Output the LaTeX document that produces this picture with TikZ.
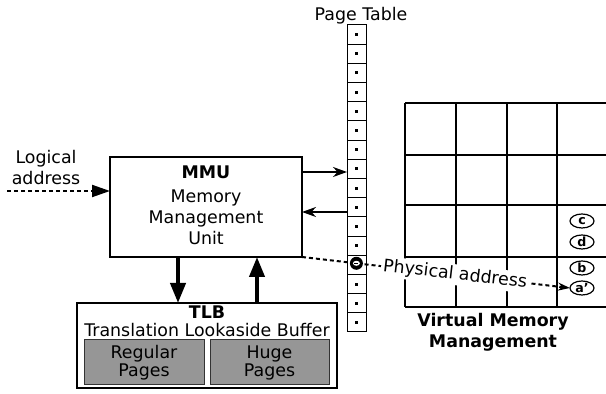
\documentclass[tikz,border=0pt]{standalone}
\usepackage{fontspec}
\setmainfont{DejaVu Sans}
\usetikzlibrary{arrows.meta,shapes.geometric}
\definecolor{boxgray}{RGB}{150,150,150}
\begin{document}
\begin{tikzpicture}[x=0.5pt,y=-0.5pt,
  every node/.style={inner sep=0pt, outer sep=0pt},
  txt/.style={font=\fontsize{8.7}{10.5}\selectfont, align=center},
  tighttxt/.style={font=\fontsize{8.7}{9}\selectfont, align=center},
  bigbox/.style={draw, line width=1pt, fill=white, rectangle},
  graybox/.style={draw=black!80, line width=0.5pt, fill=boxgray, rectangle,
    minimum height=22.5pt, font=\fontsize{8.7}{9}\selectfont, align=center},
  thinarrow/.style={line width=1pt, -{Stealth[length=7pt,width=5pt]}},
  thickarrow/.style={line width=2pt, -{Triangle[length=10pt,width=7.5pt]}},
  dotline/.style={line width=1pt, dash pattern=on 2pt off 1.5pt},
  gridline/.style={line width=0.75pt},
  slot/.style={draw, ellipse, line width=0.6pt, minimum width=12pt, minimum height=7pt,
    font=\fontsize{6.3}{6.5}\selectfont\bfseries},
  hitmark/.style={circle, fill=black, minimum size=6.5pt}
]
\useasboundingbox (0,0) rectangle (606,394);

% MMU
\node[bigbox, minimum width=96pt, minimum height=50pt] (mmu) at (206,207) {};
\node[txt] (mmutext) at (206,205) {\textbf{MMU}\\[1.5pt]Memory\\Management\\Unit};

% TLB
\node[bigbox, minimum width=130pt, minimum height=42.5pt] (tlb) at (207,345.5) {};
\node[tighttxt] (tlbtext) at (207,321) {\textbf{TLB}\\Translation Lookaside Buffer};
\node[graybox, minimum width=60pt] (regular) at (144,362.5) {Regular\\Pages};
\node[graybox, minimum width=59.5pt] (huge) at (269.5,362.5) {Huge\\Pages};

% Page table
\node[draw, line width=0.5pt, rectangle, minimum width=9.5pt, minimum height=153.5pt] (pt) at (356.5,178.5) {};
\node[txt] (pttitle) at (361,16) {Page Table};
\foreach \k in {1,...,15} {
  \draw[line width=0.5pt] (347,{25+\k*19.1875}) -- (366,{25+\k*19.1875});
}
\foreach \k in {1,...,12,14,15,16} {
  \fill (355,{25+(\k-0.5)*19.1875-1.5}) rectangle +(3,3);
}

% Logical address
\node[txt] (logical) at (46,168) {Logical\\address};
\coordinate (lstart) at (7,191);
\draw[dotline, -{Triangle[length=9pt,width=6pt]}] (lstart) -- (lstart -| mmu.west);

% MMU <-> page table
\draw[thinarrow] ([yshift=17.5pt]mmu.east) -- ([yshift=3.25pt]pt.west);
\draw[thinarrow] ([yshift=-16.75pt]pt.west) -- ([yshift=-2.5pt]mmu.east);

% MMU <-> TLB
\draw[thickarrow] ([xshift=-14pt]mmu.south) -- ([xshift=-14.5pt]tlb.north);
\draw[thickarrow] ([xshift=25pt]tlb.north) -- ([xshift=25.5pt]mmu.south);

% Virtual memory grid
\foreach \y in {103,155,205,257,307} {
  \draw[gridline] (405,\y) -- (606,\y);
}
\foreach \x in {405,456,507,557} {
  \draw[gridline] (\x,103) -- (\x,307);
}
\node[slot] (c) at (582,221) {c};
\node[slot] (d) at (582,242) {d};
\node[slot] (b) at (582,268) {b};
\node[slot] (aprime) at (582,288) {a’};
\node[txt, font=\fontsize{8.7}{10.5}\selectfont\bfseries] (vmm) at (493,332) {Virtual Memory\\Management};

% Physical address
\draw[dotline, -{Stealth[length=6pt,width=4pt]}] (mmu.south east)
  -- node[pos=0.203, hitmark] (hit) {}
     node[pos=0.571, sloped, fill=white, inner sep=1pt, txt] (phys) {Physical address}
  (aprime.west);
\fill[white] (hit.center) ellipse [x radius=3.5, y radius=2.5];
\draw[line width=0.6pt] ([xshift=-1pt]hit.center) -- ([xshift=1pt]hit.center);
\end{tikzpicture}
\end{document}
